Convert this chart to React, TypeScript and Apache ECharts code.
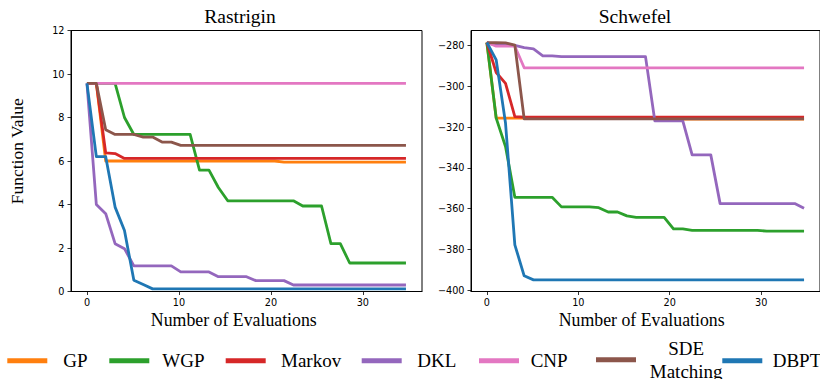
import React, { useEffect, useRef } from "react";
import * as echarts from "echarts";

const seriesNames = ["GP", "WGP", "Markov", "DKL", "CNP", "SDE Matching", "DBPT"];
const seriesColors = ["#ff7f0e", "#2ca02c", "#d62728", "#9467bd", "#e377c2", "#8c564b", "#1f77b4"];

const evaluations = [
  0, 1.02, 2.04, 3.06, 4.08, 5.1, 6.12, 7.14, 8.16, 9.18, 10.2, 11.22, 12.24, 13.27, 14.29, 15.31, 16.33, 17.35,
  18.37, 19.39, 20.41, 21.43, 22.45, 23.47, 24.49, 25.51, 26.53, 27.55, 28.57, 29.59, 30.61, 31.63, 32.65, 33.67, 34.69,
];

const rastriginGP = [
  9.57, 9.57, 6.0, 6.0, 6.0, 6.0, 6.0, 6.0, 6.0, 6.0, 6.0, 6.0, 6.0, 6.0, 6.0, 6.0, 6.0, 6.0, 6.0, 6.0, 6.0,
  5.95, 5.95, 5.95, 5.95, 5.95, 5.95, 5.95, 5.95, 5.95, 5.95, 5.95, 5.95, 5.95, 5.95,
];
const rastriginWGP = [
  9.57, 9.57, 9.57, 9.57, 8.0, 7.22, 7.22, 7.22, 7.22, 7.22, 7.22, 7.22, 5.58, 5.58, 4.78, 4.17, 4.17, 4.17,
  4.17, 4.17, 4.17, 4.17, 4.17, 3.93, 3.93, 3.93, 2.2, 2.2, 1.31, 1.31, 1.31, 1.31, 1.31, 1.31, 1.31,
];
const rastriginMarkov = [
  9.57, 9.57, 6.37, 6.34, 6.12, 6.12, 6.12, 6.12, 6.12, 6.12, 6.12, 6.12, 6.12, 6.12, 6.12, 6.12, 6.12, 6.12,
  6.12, 6.12, 6.12, 6.12, 6.12, 6.12, 6.12, 6.12, 6.12, 6.12, 6.12, 6.12, 6.12, 6.12, 6.12, 6.12, 6.12,
];
const rastriginDKL = [
  9.57, 4.0, 3.58, 2.2, 1.97, 1.18, 1.18, 1.18, 1.18, 1.18, 0.9, 0.9, 0.9, 0.9, 0.68, 0.68, 0.68, 0.68,
  0.5, 0.5, 0.5, 0.5, 0.3, 0.3, 0.3, 0.3, 0.3, 0.3, 0.3, 0.3, 0.3, 0.3, 0.3, 0.3, 0.3,
];
const rastriginCNP = [
  9.57, 9.57, 9.57, 9.57, 9.57, 9.57, 9.57, 9.57, 9.57, 9.57, 9.57, 9.57, 9.57, 9.57, 9.57, 9.57, 9.57, 9.57,
  9.57, 9.57, 9.57, 9.57, 9.57, 9.57, 9.57, 9.57, 9.57, 9.57, 9.57, 9.57, 9.57, 9.57, 9.57, 9.57, 9.57,
];
const rastriginSDE = [
  9.57, 9.57, 7.44, 7.22, 7.22, 7.22, 7.1, 7.1, 6.87, 6.87, 6.72, 6.72, 6.72, 6.72, 6.72, 6.72, 6.72, 6.72,
  6.72, 6.72, 6.72, 6.72, 6.72, 6.72, 6.72, 6.72, 6.72, 6.72, 6.72, 6.72, 6.72, 6.72, 6.72, 6.72, 6.72,
];
const rastriginDBPT = [
  9.57, 6.2, 6.2, 3.88, 2.8, 0.52, 0.32, 0.12, 0.12, 0.12, 0.12, 0.12, 0.12, 0.12, 0.12, 0.12, 0.12, 0.12,
  0.12, 0.12, 0.12, 0.12, 0.12, 0.12, 0.12, 0.12, 0.12, 0.12, 0.12, 0.12, 0.12, 0.12, 0.12, 0.12, 0.12,
];

const schwefelGP = [
  -278.5, -315.6, -315.6, -315.6, -315.6, -315.6, -315.6, -315.6, -315.6, -315.6, -315.6, -315.6, -315.6,
  -315.6, -315.6, -315.6, -315.6, -315.6, -315.6, -315.6, -316.0, -316.0, -316.0, -316.0, -316.0, -316.0,
  -316.0, -316.0, -316.0, -316.0, -316.0, -316.0, -316.0, -316.0, -316.0,
];
const schwefelWGP = [
  -278.5, -315.6, -329.5, -354.4, -354.4, -354.4, -354.4, -354.4, -359.1, -359.1, -359.1, -359.1, -359.5,
  -361.6, -361.6, -363.5, -364.2, -364.2, -364.2, -364.2, -369.9, -369.9, -370.6, -370.6, -370.6, -370.6,
  -370.6, -370.6, -370.6, -370.6, -371.0, -371.0, -371.0, -371.0, -371.0,
];
const schwefelMarkov = [
  -278.5, -293.2, -298.5, -314.8, -315.1, -315.1, -315.1, -315.1, -315.1, -315.1, -315.1, -315.1, -315.1,
  -315.1, -315.1, -315.1, -315.1, -315.1, -315.1, -315.1, -315.1, -315.1, -315.1, -315.1, -315.1, -315.1,
  -315.1, -315.1, -315.1, -315.1, -315.1, -315.1, -315.1, -315.1, -315.1,
];
const schwefelDKL = [
  -278.5, -279.9, -279.9, -279.9, -281.0, -281.6, -285.0, -285.0, -285.4, -285.4, -285.4, -285.4, -285.4,
  -285.4, -285.4, -285.4, -285.4, -285.4, -316.9, -316.9, -316.9, -316.9, -333.6, -333.6, -333.6, -357.5,
  -357.5, -357.5, -357.5, -357.5, -357.5, -357.5, -357.5, -357.5, -359.8,
];
const schwefelCNP = [
  -278.5, -280.3, -280.3, -280.3, -290.9, -290.9, -290.9, -290.9, -290.9, -290.9, -290.9, -290.9, -290.9,
  -290.9, -290.9, -290.9, -290.9, -290.9, -290.9, -290.9, -290.9, -290.9, -290.9, -290.9, -290.9, -290.9,
  -290.9, -290.9, -290.9, -290.9, -290.9, -290.9, -290.9, -290.9, -290.9,
];
const schwefelSDE = [
  -278.5, -278.6, -278.7, -279.8, -315.9, -315.9, -315.9, -315.9, -315.9, -315.9, -315.9, -315.9, -315.9,
  -315.9, -315.9, -315.9, -315.9, -315.9, -315.9, -315.9, -315.9, -315.9, -315.9, -315.9, -315.9, -315.9,
  -315.9, -315.9, -315.9, -315.9, -315.9, -315.9, -315.9, -315.9, -315.9,
];
const schwefelDBPT = [
  -278.5, -287.0, -318.0, -377.7, -392.9, -394.9, -394.9, -394.9, -394.9, -394.9, -394.9, -394.9, -394.9,
  -394.9, -394.9, -394.9, -394.9, -394.9, -394.9, -394.9, -394.9, -394.9, -394.9, -394.9, -394.9, -394.9,
  -394.9, -394.9, -394.9, -394.9, -394.9, -394.9, -394.9, -394.9, -394.9,
];

const xTicks = [0, 10, 20, 30];
const rastriginYTicks = [0, 2, 4, 6, 8, 10, 12];
const schwefelYTicks = [-400, -380, -360, -340, -320, -300, -280];

const panelTitles = ["Rastrigin", "Schwefel"];
const xAxisTitle = "Number of Evaluations";
const yAxisTitle = "Function Value";

const rastriginSeries = [rastriginGP, rastriginWGP, rastriginMarkov, rastriginDKL, rastriginCNP, rastriginSDE, rastriginDBPT];
const schwefelSeries = [schwefelGP, schwefelWGP, schwefelMarkov, schwefelDKL, schwefelCNP, schwefelSDE, schwefelDBPT];

const SERIF = "'Liberation Serif', 'Times New Roman', serif";
const SANS = "'DejaVu Sans', sans-serif";

const legendIconLeft = [7.3, 109.3, 225.7, 361.7, 479, 596, 722.3];
const legendTextLeft = [63.3, 162.3, 281, 417.3, 530.7, 648.7, 772.7];

function fmt(v: number) {
  return v < 0 ? "\u2212" + Math.abs(v) : String(v);
}

export default function App() {
  const ref = useRef<HTMLDivElement>(null);
  useEffect(() => {
    if (!ref.current) return;
    const chart = echarts.init(ref.current, null, { renderer: "svg" });

    const gridBase = { top: 30.5, width: 351, height: 261, show: true, borderColor: "#000", borderWidth: 1, backgroundColor: "transparent" };
    const xAxisBase = (gi: number) => ({
      type: "value",
      gridIndex: gi,
      position: "bottom",
      min: -1.735,
      max: 36.435,
      splitLine: { show: false },
      axisLine: { show: true, onZero: false, lineStyle: { color: "#000", width: 1 } },
      axisTick: { show: true, length: 3.5, customValues: xTicks, lineStyle: { color: "#000", width: 0.8 } },
      axisLabel: { customValues: xTicks, margin: 5.5, fontFamily: SANS, fontSize: 9.7, color: "#000", formatter: fmt },
    });
    const yAxisBase = (gi: number, min: number, max: number, ticks: number[]) => ({
      type: "value",
      gridIndex: gi,
      position: "left",
      min,
      max,
      splitLine: { show: false },
      axisLine: { show: true, onZero: false, lineStyle: { color: "#000", width: 1 } },
      axisTick: { show: true, length: 3.5, customValues: ticks, lineStyle: { color: "#000", width: 0.8 } },
      axisLabel: { customValues: ticks, margin: 6.5, fontFamily: SANS, fontSize: 9.7, color: "#000", formatter: fmt },
    });

    const series: any[] = [];
    [rastriginSeries, schwefelSeries].forEach((group, gi) => {
      group.forEach((vals, si) => {
        series.push({
          type: "line",
          name: seriesNames[si],
          xAxisIndex: gi,
          yAxisIndex: gi,
          data: evaluations.map((x, k) => [x, vals[k]]),
          showSymbol: false,
          symbol: "none",
          color: seriesColors[si],
          lineStyle: { width: 2.8, color: seriesColors[si], cap: "butt", join: "round" },
          z: 2 + si,
          silent: true,
        });
      });
    });

    const legends = seriesNames.map((name, i) => {
      const multi = name === "SDE Matching";
      const lh = multi ? 22.7 : 22;
      return {
        data: [{ name, icon: "rect" }],
        left: legendIconLeft[i],
        top: multi ? 337 : 349.7,
        orient: "horizontal",
        padding: 0,
        itemWidth: 40,
        itemHeight: 5,
        itemGap: 0,
        selectedMode: false,
        itemStyle: { borderWidth: 0 },
        formatter: multi ? "{c|SDE}\n{c|Matching}" : name,
        textStyle: {
          fontFamily: SERIF,
          fontSize: 19,
          color: "#000",
          lineHeight: lh,
          padding: [0, 0, 0, legendTextLeft[i] - legendIconLeft[i] - 45],
          rich: multi ? { c: { fontFamily: SERIF, fontSize: 19, color: "#000", lineHeight: lh, width: 75, align: "center" } } : undefined,
        },
      };
    });

    const textStyle = (size: number) => ({ fontFamily: SERIF, fontSize: size, fill: "#000" });

    chart.setOption({
      animation: false,
      grid: [
        { ...gridBase, left: 71 },
        { ...gridBase, left: 471 },
      ],
      xAxis: [xAxisBase(0), xAxisBase(1)],
      yAxis: [yAxisBase(0, 0, 12, rastriginYTicks), yAxisBase(1, -400.6, -272.6, schwefelYTicks)],
      legend: legends,
      series,
      graphic: [
        { type: "text", x: 240, y: 16, style: { ...textStyle(19.5), text: panelTitles[0], textAlign: "center", textVerticalAlign: "middle" } },
        { type: "text", x: 635, y: 16, style: { ...textStyle(19.5), text: panelTitles[1], textAlign: "center", textVerticalAlign: "middle" } },
        { type: "text", x: 233.8, y: 319.5, style: { ...textStyle(17.8), text: xAxisTitle, textAlign: "center", textVerticalAlign: "middle" } },
        { type: "text", x: 641.7, y: 319.5, style: { ...textStyle(17.8), text: xAxisTitle, textAlign: "center", textVerticalAlign: "middle" } },
        { type: "text", x: 16.7, y: 151.2, rotation: Math.PI / 2, style: { ...textStyle(17.5), text: yAxisTitle, textAlign: "center", textVerticalAlign: "middle" } },
      ],
    });
    return () => chart.dispose();
  }, []);
  return <div ref={ref} style={{ position: "fixed", left: 0, top: 0, width: 820, height: 379, background: "#fff" }} />;
}
